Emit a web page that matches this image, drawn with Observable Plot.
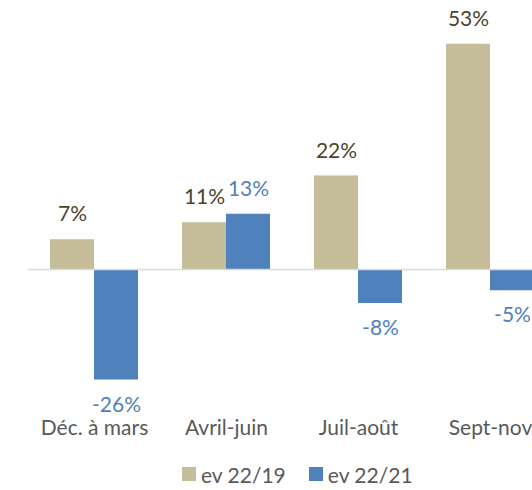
<!DOCTYPE html>
<html>
<head>
<meta charset="utf-8">
<script src="https://cdn.jsdelivr.net/npm/d3@7"></script>
<script src="https://cdn.jsdelivr.net/npm/@observablehq/plot@0.6"></script>
<style>
  html, body { margin: 0; padding: 0; background: #fff; overflow: hidden; width: 532px; height: 490px; }
  #chart svg { overflow: hidden; }
  .legend { display: flex; align-items: center; padding-left: 182px; height: 32px; font-family: Lato, "Open Sans", sans-serif; font-size: 21px; font-weight: 400; color: #595959; }
  .sw { width: 14px; height: 14px; display: inline-block; margin-right: 5px; }
  .item { display: flex; align-items: center; margin-right: 23px; }
</style>
</head>
<body>
<div id="chart"></div>
<div class="legend" id="legend"></div>
<script>
const categories = ["Déc. à mars", "Avril-juin", "Juil-août", "Sept-nov"];
const series = ["ev 22/19", "ev 22/21"];
const ev2219 = [7, 11, 22, 53];
const ev2221 = [-26, 13, -8, -5];
const barColors = ["#C4BD97", "#4F81BD"];
const labelColors = ["#4A452A", "#4F81BD"];

const data = categories.flatMap((c, i) => [
  {cat: c, s: series[0], v: ev2219[i]},
  {cat: c, s: series[1], v: ev2221[i]}
]);

const chart = Plot.plot({
  width: 532,
  height: 458,
  marginLeft: 28,
  marginRight: 0,
  marginTop: 0,
  marginBottom: 41,
  fx: {domain: categories, range: [28, 556], padding: 0, label: null},
  x: {domain: series, paddingInner: 0, paddingOuter: 0.5, axis: null},
  y: {domain: [-30, 60], range: [396.5, 14], axis: null},
  color: {domain: series, range: barColors},
  style: {fontFamily: "Lato, 'Open Sans', sans-serif", fontSize: "21px", fontWeight: 400, background: "#fff"},
  marks: [
    Plot.barY(data, {fx: "cat", x: "s", y: "v", fill: "s"}),
    Plot.ruleY([0], {stroke: "#D9D9D9", strokeWidth: 1.5}),
    Plot.text(data.filter(d => d.s === series[0]), {fx: "cat", x: "s", y: "v", text: d => d.v + "%", dy: -25, fill: labelColors[0], fontSize: 21}),
    Plot.text(data.filter(d => d.s === series[1] && d.v >= 0), {fx: "cat", x: "s", y: "v", text: d => d.v + "%", dy: -25, fill: labelColors[1], fontSize: 21}),
    Plot.text(data.filter(d => d.s === series[1] && d.v < 0), {fx: "cat", x: "s", y: "v", text: d => d.v + "%", dy: 25, fill: labelColors[1], fontSize: 21}),
    Plot.axisFx({anchor: "bottom", tickSize: 0, tickPadding: 3, fill: "#595959", fontSize: 21, label: null})
  ]
});
document.getElementById("chart").appendChild(chart);

const legend = document.getElementById("legend");
series.forEach((s, i) => {
  const item = document.createElement("div");
  item.className = "item";
  const sw = document.createElement("span");
  sw.className = "sw";
  sw.style.background = barColors[i];
  const t = document.createElement("span");
  t.textContent = s;
  item.appendChild(sw);
  item.appendChild(t);
  legend.appendChild(item);
});
</script>
</body>
</html>
